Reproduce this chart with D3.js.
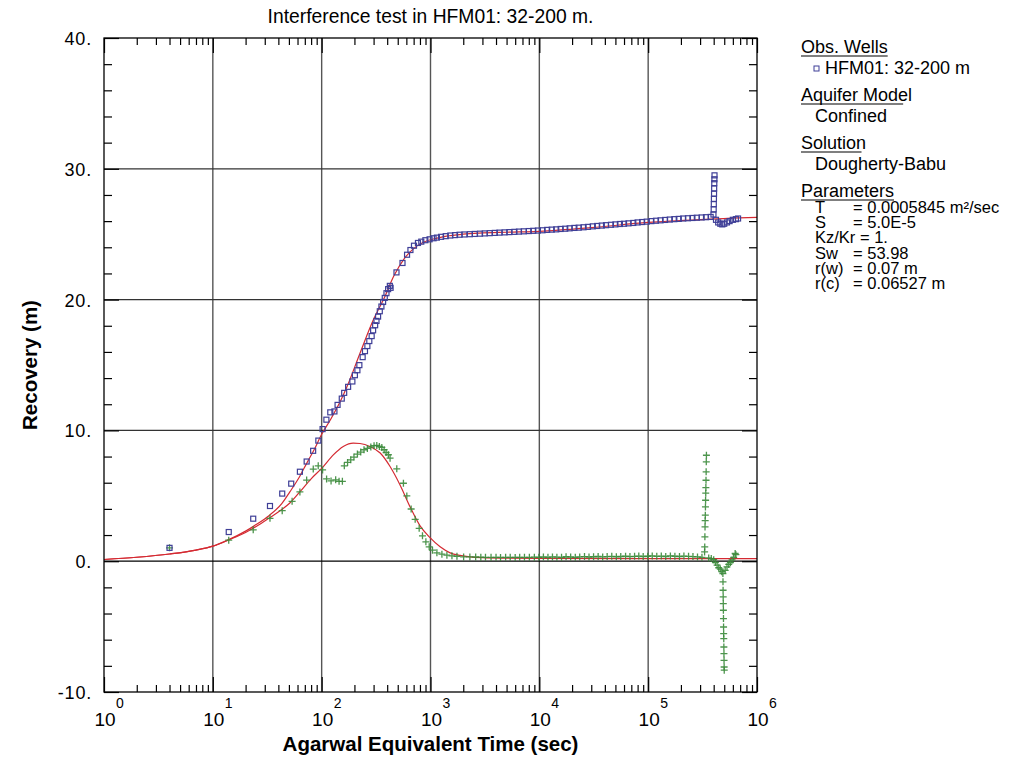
<!DOCTYPE html>
<html>
<head>
<meta charset="utf-8">
<script src="https://cdn.jsdelivr.net/npm/d3@7"></script>
<style>
  html, body { margin: 0; padding: 0; background: #fff; }
  svg { display: block; font-family: "Liberation Sans", Arial, sans-serif; }
</style>
</head>
<body>
<svg id="chart" width="1033" height="765"></svg>
<script>
// ---------------- DATA ----------------
const titleText = "Interference test in HFM01: 32-200 m.";
const xLabel = "Agarwal Equivalent Time (sec)";
const yLabel = "Recovery (m)";
const xDecades = [0, 1, 2, 3, 4, 5, 6];
const yTicks = [-10, 0, 10, 20, 30, 40];
const yTickLabels = ["-10.", "0.", "10.", "20.", "30.", "40."];

// Observed recovery (blue squares)
const obsTime = [4.0, 14.0, 23.5, 33.5, 43.4, 52.5, 63.1, 72.8, 83.5, 93.2, 102, 110.5, 120, 131, 140, 153, 161, 175, 191.5, 202, 213, 222, 238, 250, 263, 274, 288, 297, 310, 319, 330, 342, 354, 367, 380, 394, 408, 423, 430, 487, 553, 609, 654, 705, 767, 823, 897, 981, 1067, 1145,
  1250, 1380, 1520, 1680, 1850, 2050, 2300, 2550, 2850, 3150, 3500, 3900, 4300, 4800, 5300, 5900, 6500, 7200, 8000, 8800, 9700,
  10700, 11800, 13000, 14300, 15700, 17300, 19000, 21000, 23000, 25500, 28000, 31000, 34000, 37500, 41000, 45500, 50000, 55000, 60000, 66000, 73000, 80000, 88000, 97000,
  107000, 118000, 130000, 143000, 158000, 174000, 191000, 210000, 232000, 255000, 280000, 310000, 340000, 375000,
  398000, 400000, 401000, 402000, 403000, 404000, 405000, 406000, 407000,
  420000, 440000, 460000, 480000, 500000, 530000, 560000, 600000, 640000, 670000];
const obsRecovery = [1.02, 2.23, 3.25, 4.22, 5.17, 5.93, 6.84, 7.62, 8.44, 9.22, 10.1, 10.82, 11.38, 11.45, 11.95, 12.43, 12.87, 13.33, 13.74, 14.22, 14.6, 14.99, 15.6, 16.06, 16.45, 16.83, 17.21, 17.65, 18.04, 18.37, 18.7, 19.11, 19.47, 19.82, 20.13, 20.49, 20.8, 21.05, 20.9, 22.08, 22.8, 23.43, 23.79, 24.12, 24.33, 24.43, 24.54, 24.61, 24.69, 24.74,
  24.8, 24.85, 24.9, 24.93, 24.96, 24.98, 25.0, 25.02, 25.04, 25.06, 25.08, 25.1, 25.12, 25.14, 25.16, 25.18, 25.2, 25.22, 25.24, 25.26, 25.28,
  25.3, 25.33, 25.35, 25.37, 25.4, 25.42, 25.45, 25.48, 25.5, 25.53, 25.56, 25.6, 25.63, 25.66, 25.69, 25.72, 25.75, 25.78, 25.8, 25.83, 25.86, 25.9, 25.93, 25.96,
  26.0, 26.03, 26.06, 26.09, 26.12, 26.15, 26.17, 26.2, 26.22, 26.24, 26.26, 26.28, 26.3, 26.32,
  26.5, 26.9, 27.3, 27.7, 28.1, 28.5, 28.9, 29.2, 29.5,
  26.1, 25.9, 25.8, 25.75, 25.8, 25.9, 26.0, 26.1, 26.15, 26.2];

// Derivative (green pluses)
const derivTime = [4.0, 14.0, 23.5, 33.5, 43.4, 53.5, 63.1, 72.8, 83.7, 93, 102, 111, 122, 134.5, 144.5, 155, 161.5, 173, 185, 198, 213, 228.5, 245, 263, 283, 303, 321, 339, 357, 375, 391, 410, 425, 490, 564, 606, 664, 723, 787, 844, 907, 973, 1043, 1145, 1273, 1415, 1574, 1750, 2015, 2300,
  2600, 2900, 3200, 3600, 4000, 4400, 4900, 5400, 6000, 6600, 7300, 8100, 9000, 9900, 10900, 12000, 13200, 14500, 16000, 17600, 19400, 21400, 23500, 26000, 28600, 31500, 34700, 38200, 42000, 46300, 51000, 56000, 62000, 68000, 75000, 82000, 90000, 99000, 109000, 120000, 132000, 145000, 160000, 176000, 194000, 213000, 235000, 258000, 284000, 312000,
  330000, 331000, 332000, 333000, 334000, 335000, 336000, 337000, 338000, 339000, 340000, 341000, 342000, 343000,
  360000, 380000, 400000, 415000, 430000, 445000, 460000, 475000,
  486000, 487000, 488000, 489000, 490000, 491000, 492000, 493000, 494000, 495000, 496000, 497000, 498000, 499000, 500000,
  510000, 530000, 550000, 570000, 590000, 610000, 630000, 640000];
const derivValue = [1.02, 1.61, 2.4, 3.28, 3.86, 4.58, 5.3, 6.2, 7.04, 7.29, 6.98, 6.29, 6.14, 6.22, 6.11, 6.11, 7.29, 7.55, 7.75, 7.96, 8.19, 8.34, 8.52, 8.62, 8.73, 8.83, 8.85, 8.77, 8.7, 8.52, 8.31, 8.14, 7.88, 7.06, 5.96, 4.99, 3.99, 3.2, 2.51, 1.94, 1.48, 1.1, 0.84, 0.64, 0.54, 0.46, 0.41, 0.38, 0.33, 0.33,
  0.32, 0.31, 0.3, 0.3, 0.3, 0.29, 0.3, 0.3, 0.29, 0.3, 0.3, 0.3, 0.31, 0.3, 0.32, 0.3, 0.33, 0.31, 0.3, 0.34, 0.32, 0.3, 0.33, 0.35, 0.32, 0.34, 0.36, 0.33, 0.35, 0.37, 0.34, 0.36, 0.38, 0.35, 0.37, 0.39, 0.36, 0.38, 0.4, 0.37, 0.39, 0.36, 0.4, 0.38, 0.36, 0.39, 0.37, 0.35, 0.33, 0.3,
  0.71, 1.09, 1.86, 2.62, 3.1, 3.52, 4.15, 4.66, 5.2, 5.63, 6.19, 6.83, 7.6, 8.1,
  0.25, 0.2, 0.12, -0.1, -0.3, -0.5, -0.6, -0.8,
  -0.94, -1.58, -2.22, -2.73, -3.24, -3.75, -4.39, -5.03, -5.54, -5.92, -6.56, -7.07, -7.58, -8.09, -8.33,
  -0.7, -0.43, -0.25, -0.1, 0.1, 0.3, 0.59, 0.5];

// Type curve (red) for recovery
const modelTime = [1, 2, 4, 7, 10, 14, 20, 25, 33, 43, 51, 63, 73, 85, 100, 120, 150, 170, 225, 300, 370, 460, 570, 700, 870, 1150, 1400, 2000, 2800, 5000, 10000, 30000, 100000, 300000, 1000000];
const modelRecovery = [0.13, 0.3, 0.55, 0.85, 1.15, 1.65, 2.3, 2.8, 3.5, 4.4, 5.3, 6.5, 7.5, 8.5, 9.7, 10.8, 12.3, 13.3, 15.9, 18.5, 20.0, 21.8, 23.1, 23.9, 24.4, 24.7, 24.85, 25.0, 25.08, 25.15, 25.22, 25.5, 25.9, 26.12, 26.28];

// Type curve (red) for derivative
const modelDerivTime = [1, 2, 4, 7, 10, 14, 20, 25, 33, 43, 51, 63, 80, 100, 128, 158, 195, 225, 278, 345, 425, 525, 648, 802, 990, 1226, 1515, 1870, 2310, 3000, 5000, 10000, 1000000];
const modelDerivative = [0.13, 0.3, 0.55, 0.85, 1.15, 1.63, 2.2, 2.65, 3.3, 3.95, 4.45, 5.3, 6.3, 7.1, 8.13, 8.77, 9.03, 9.0, 8.77, 8.27, 7.24, 5.83, 4.17, 2.7, 1.8, 1.1, 0.64, 0.44, 0.33, 0.27, 0.23, 0.21, 0.2];

// Legend / parameters panel
const legendSections = [
  { head: "Obs. Wells", items: ["HFM01: 32-200 m"], marker: true },
  { head: "Aquifer Model", items: ["Confined"] },
  { head: "Solution", items: ["Dougherty-Babu"] },
  { head: "Parameters", items: [] }
];
const paramNames = ["T", "S", "Kz/Kr", "Sw", "r(w)", "r(c)"];
const paramValues = ["= 0.0005845 m²/sec", "= 5.0E-5", "= 1.", "= 53.98", "= 0.07 m", "= 0.06527 m"];

// ---------------- LAYOUT ----------------
const L = 104, R = 757, T = 38, B = 692;
const blue = "#3f3f97", green = "#3a8a3a", red = "#d42a32";
const font = "'Liberation Sans', Arial, sans-serif";

const svg = d3.select("#chart");
const x = d3.scaleLog().domain([1, 1e6]).range([L, R]);
const y = d3.scaleLinear().domain([-10, 40]).range([B, T]);

// grid
const grid = svg.append("g");
grid.selectAll("line.vg").data(xDecades.slice(1, -1)).enter().append("line")
  .attr("x1", d => x(Math.pow(10, d))).attr("x2", d => x(Math.pow(10, d)))
  .attr("y1", T).attr("y2", B).attr("stroke", "#555").attr("stroke-width", 1.4);
grid.selectAll("line.hg").data(yTicks.slice(1, -1)).enter().append("line")
  .attr("x1", L).attr("x2", R)
  .attr("y1", d => y(d)).attr("y2", d => y(d))
  .attr("stroke", d => d === 0 ? "#000" : "#333").attr("stroke-width", d => d === 0 ? 1.2 : 1.3);

// axes ticks (inward) via d3 axes
const minorX = [];
for (let e = 0; e < 6; e++) for (let m = 2; m <= 9; m++) minorX.push(m * Math.pow(10, e));
const majorX = xDecades.map(d => Math.pow(10, d));
function styleAxis(g) {
  g.select(".domain").remove();
  g.selectAll(".tick line").attr("stroke", "#000").attr("stroke-width", 1.2);
  g.selectAll(".tick text").remove();
}
svg.append("g").attr("transform", `translate(0,${B})`)
  .call(d3.axisTop(x).tickValues(minorX).tickSize(7).tickFormat("")).call(styleAxis);
svg.append("g").attr("transform", `translate(0,${B})`)
  .call(d3.axisTop(x).tickValues(majorX).tickSize(15).tickFormat("")).call(styleAxis);
svg.append("g").attr("transform", `translate(0,${T})`)
  .call(d3.axisBottom(x).tickValues(minorX).tickSize(7).tickFormat("")).call(styleAxis);
svg.append("g").attr("transform", `translate(0,${T})`)
  .call(d3.axisBottom(x).tickValues(majorX).tickSize(15).tickFormat("")).call(styleAxis);
const minorY = d3.range(-10, 41, 2).filter(v => v % 10 !== 0);
svg.append("g").attr("transform", `translate(${L},0)`)
  .call(d3.axisRight(y).tickValues(minorY).tickSize(8).tickFormat("")).call(styleAxis);
svg.append("g").attr("transform", `translate(${L},0)`)
  .call(d3.axisRight(y).tickValues(yTicks).tickSize(15).tickFormat("")).call(styleAxis);
svg.append("g").attr("transform", `translate(${R},0)`)
  .call(d3.axisLeft(y).tickValues(minorY).tickSize(8).tickFormat("")).call(styleAxis);
svg.append("g").attr("transform", `translate(${R},0)`)
  .call(d3.axisLeft(y).tickValues(yTicks).tickSize(15).tickFormat("")).call(styleAxis);

// clip
svg.append("clipPath").attr("id", "plotclip").append("rect")
  .attr("x", L).attr("y", T).attr("width", R - L).attr("height", B - T);
const plot = svg.append("g").attr("clip-path", "url(#plotclip)");

// model curves
const line = d3.line().x(d => x(d[0])).y(d => y(d[1])).curve(d3.curveMonotoneX);
plot.append("path").datum(d3.zip(modelTime, modelRecovery)).attr("d", line)
  .attr("fill", "none").attr("stroke", red).attr("stroke-width", 1.2);
plot.append("path").datum(d3.zip(modelDerivTime, modelDerivative)).attr("d", line)
  .attr("fill", "none").attr("stroke", red).attr("stroke-width", 1.2);

// green pluses
const pl = 3.5;
plot.append("g").selectAll("path").data(d3.zip(derivTime, derivValue)).enter().append("path")
  .attr("d", d => { const cx = x(d[0]), cy = y(d[1]); return `M${cx - pl},${cy}H${cx + pl}M${cx},${cy - pl}V${cy + pl}`; })
  .attr("stroke", green).attr("stroke-width", 1.3).attr("fill", "none").attr("opacity", 0.9);

// blue squares
const sq = 5;
plot.append("g").selectAll("rect").data(d3.zip(obsTime, obsRecovery)).enter().append("rect")
  .attr("x", d => x(d[0]) - sq / 2).attr("y", d => y(d[1]) - sq / 2)
  .attr("width", sq).attr("height", sq)
  .attr("fill", "none").attr("stroke", blue).attr("stroke-width", 1.2);

// frame
svg.append("rect").attr("x", L).attr("y", T).attr("width", R - L).attr("height", B - T)
  .attr("fill", "none").attr("stroke", "#000").attr("stroke-width", 1.3);

// y tick labels
svg.append("g").selectAll("text").data(yTicks).enter().append("text")
  .attr("x", L - 12).attr("y", d => y(d) + 7)
  .attr("text-anchor", "end").attr("font-size", 18).attr("letter-spacing", 0.8).attr("font-family", font)
  .text((d, i) => yTickLabels[i]);

// x tick labels 10^n
const xtg = svg.append("g").attr("font-family", font);
xtg.selectAll("text.base").data(xDecades).enter().append("text")
  .attr("x", d => x(Math.pow(10, d)) + 1).attr("y", 726)
  .attr("text-anchor", "middle").attr("font-size", 19).text("10");
xtg.selectAll("text.exp").data(xDecades).enter().append("text")
  .attr("x", d => x(Math.pow(10, d)) + 12).attr("y", 708)
  .attr("text-anchor", "start").attr("font-size", 14).text(d => d);

// title
svg.append("text").attr("x", (L + R) / 2).attr("y", 23).attr("text-anchor", "middle")
  .attr("font-size", 19.3).attr("font-family", font).text(titleText);
// axis titles
svg.append("text").attr("x", (L + R) / 2).attr("y", 751).attr("text-anchor", "middle")
  .attr("font-size", 20.5).attr("font-weight", "bold").attr("font-family", font).text(xLabel);
svg.append("text").attr("transform", `translate(37,${(T + B) / 2}) rotate(-90)`).attr("text-anchor", "middle")
  .attr("font-size", 20.5).attr("font-weight", "bold").attr("font-family", font).text(yLabel);

// legend
const underlineRatio = [1, 0.92, 0.93, 1];
const lg = svg.append("g").attr("font-family", font).attr("font-size", 18);
const lx = 801;
let ly = 53;
legendSections.forEach((s, si) => {
  const h = lg.append("text").attr("x", lx).attr("y", ly).text(s.head);
  const w = h.node().getComputedTextLength() * underlineRatio[si];
  lg.append("line").attr("x1", lx).attr("x2", lx + w).attr("y1", ly + 3).attr("y2", ly + 3)
    .attr("stroke", "#000").attr("stroke-width", 1.2);
  ly += 21;
  s.items.forEach(it => {
    if (s.marker) {
      lg.append("rect").attr("x", 814).attr("y", ly - 8).attr("width", 5).attr("height", 5)
        .attr("fill", "none").attr("stroke", blue).attr("stroke-width", 1);
      lg.append("text").attr("x", 825).attr("y", ly).text(it);
    } else {
      lg.append("text").attr("x", 815).attr("y", ly).text(it);
    }
    ly += 27;
  });
});
const pg = lg.append("g").attr("font-size", 16.5);
paramNames.forEach((p, i) => {
  const yy = 213 + i * 15.2;
  const t = pg.append("text").attr("x", 815).attr("y", yy);
  if (p === "Kz/Kr") {
    t.text(p + " " + paramValues[i]);
  } else {
    t.append("tspan").text(p);
    t.append("tspan").attr("x", 853).text(paramValues[i]);
  }
});
</script>
</body>
</html>
